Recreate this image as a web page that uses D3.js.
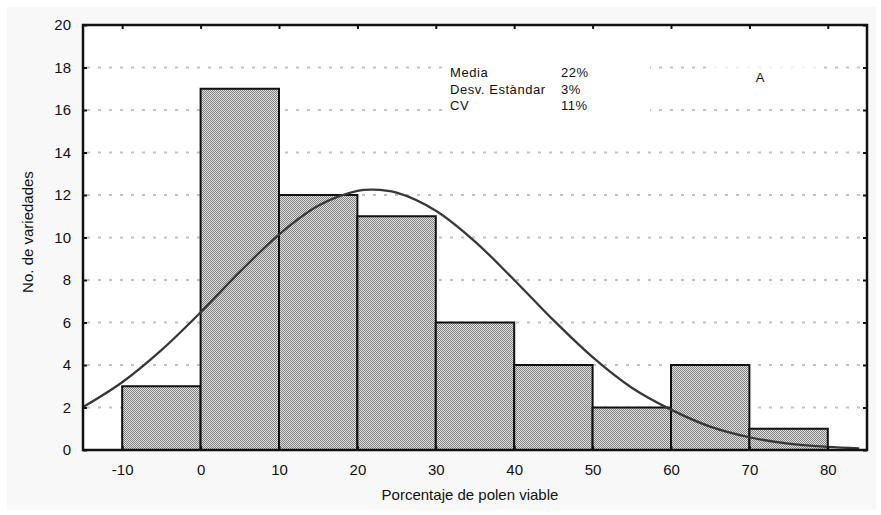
<!DOCTYPE html>
<meta charset="utf-8">
<style>
html,body{ margin:0; background:#fff; }
text{ font-family: "Liberation Sans", Arial, sans-serif; fill:#111; }
</style>
<script src="https://cdn.jsdelivr.net/npm/d3@7"></script>
<body>
<script>
var width = 881, height = 515;

// histogram bins (lower edge) and counts
var binStart = [-10, 0, 10, 20, 30, 40, 50, 60, 70];
var counts   = [3, 17, 12, 11, 6, 4, 2, 4, 1];
var binWidth = 10;

// fitted normal curve
var curveX = [-15, -10, -5, 0, 5, 10, 15, 20, 22, 25, 30, 35, 40, 45, 50, 55, 60, 65, 70, 75, 80, 84];
var curveY = [2.02, 3.19, 4.7, 6.48, 8.38, 10.14, 11.49, 12.19, 12.25, 12.11, 11.26, 9.81, 8.0, 6.11, 4.37, 2.93, 1.9, 1.1, 0.6, 0.3, 0.15, 0.08];

var xTicks = [-10, 0, 10, 20, 30, 40, 50, 60, 70, 80];
var yTicks = [0, 2, 4, 6, 8, 10, 12, 14, 16, 18, 20];

var statNames = ["Media", "Desv. Estàndar", "CV"];
var statValues = ["22%", "3%", "11%"];

var margin = {left: 83, top: 25, right: 14, bottom: 65};
var x0 = margin.left, x1 = width - margin.right,
    y0 = height - margin.bottom, y1 = margin.top;

var svg = d3.select("body").append("svg")
    .attr("width", width)
    .attr("height", height);

// light panel behind everything
svg.append("rect")
    .attr("x", 7).attr("y", 7)
    .attr("width", width - 12).attr("height", height - 12)
    .attr("fill", "#f8f8f8");

var defs = svg.append("defs");
var pat = defs.append("pattern")
    .attr("id", "hatch")
    .attr("patternUnits", "userSpaceOnUse")
    .attr("width", 2).attr("height", 2);
pat.append("rect").attr("width", 2).attr("height", 2).attr("fill", "#e2e2e2");
pat.append("rect").attr("width", 1).attr("height", 1).attr("fill", "#808080");
pat.append("rect").attr("x", 1).attr("y", 1).attr("width", 1).attr("height", 1).attr("fill", "#808080");

var x = d3.scaleLinear().domain([-15, 85]).range([x0, x1]);
var y = d3.scaleLinear().domain([0, 20]).range([y0, y1]);

// plot area
svg.append("rect")
    .attr("x", x0).attr("y", y1)
    .attr("width", x1 - x0).attr("height", y0 - y1)
    .attr("fill", "#fff");

// dotted grid
svg.append("g")
  .selectAll("line")
  .data(yTicks.filter(function(d){ return d > 0 && d < 20; }))
  .enter().append("line")
    .attr("x1", x0 + 4).attr("x2", x1 - 3)
    .attr("y1", function(d){ return y(d); })
    .attr("y2", function(d){ return y(d); })
    .attr("stroke", "#c2c2c2")
    .attr("stroke-width", 2)
    .attr("stroke-dasharray", "3,8");

// boxes that hide the grid behind the notes
svg.append("rect")
    .attr("x", 443).attr("y", 60).attr("width", 207).attr("height", 58)
    .attr("fill", "#fff");
svg.append("rect")
    .attr("x", 707).attr("y", 62).attr("width", 110).attr("height", 36)
    .attr("fill", "#fff").attr("fill-opacity", 0.75);

// bars
svg.append("g")
  .selectAll("rect")
  .data(counts)
  .enter().append("rect")
    .attr("x", function(d, i){ return x(binStart[i]); })
    .attr("y", function(d){ return y(d); })
    .attr("width", function(d, i){ return x(binStart[i] + binWidth) - x(binStart[i]); })
    .attr("height", function(d){ return y0 - y(d); })
    .attr("fill", "url(#hatch)")
    .attr("stroke", "#111")
    .attr("stroke-width", 2);

// normal curve
var line = d3.line()
    .x(function(d, i){ return x(curveX[i]); })
    .y(function(d){ return y(d); })
    .curve(d3.curveCatmullRom);
svg.append("path")
    .attr("d", line(curveY))
    .attr("fill", "none")
    .attr("stroke", "#383838")
    .attr("stroke-width", 2.3);

// frame
svg.append("rect")
    .attr("x", x0).attr("y", y1)
    .attr("width", x1 - x0).attr("height", y0 - y1)
    .attr("fill", "none")
    .attr("stroke", "#111")
    .attr("stroke-width", 2.5);

// axes: labels outside, small ticks inside
var fmt = function(d){ return String(d); };
var xAxis = svg.append("g")
    .attr("transform", "translate(0," + y0 + ")")
    .call(d3.axisBottom(x).tickValues(xTicks).tickFormat(fmt).tickSizeInner(-4).tickSizeOuter(0).tickPadding(14));
var yAxis = svg.append("g")
    .attr("transform", "translate(" + x0 + ",0)")
    .call(d3.axisLeft(y).tickValues(yTicks).tickFormat(fmt).tickSizeInner(-4).tickSizeOuter(0).tickPadding(12));
svg.append("g")
    .attr("transform", "translate(0," + y1 + ")")
    .call(d3.axisTop(x).tickValues(xTicks).tickSize(-4).tickSizeOuter(0).tickFormat(""));
svg.append("g")
    .attr("transform", "translate(" + x1 + ",0)")
    .call(d3.axisRight(y).tickValues(yTicks).tickSize(-4).tickSizeOuter(0).tickFormat(""));

svg.selectAll(".domain").remove();
svg.selectAll(".tick line").attr("stroke", "#111").attr("stroke-width", 2);
xAxis.selectAll("text").style("font-size", "15px").attr("fill", "#111");
yAxis.selectAll("text").style("font-size", "15px").attr("fill", "#111");

// axis titles
svg.append("text")
    .attr("x", (x0 + x1) / 2 - 5).attr("y", 500)
    .attr("text-anchor", "middle")
    .style("font-size", "15px")
    .text("Porcentaje de polen viable");
svg.append("text")
    .attr("transform", "translate(33,232) rotate(-90)")
    .attr("text-anchor", "middle")
    .style("font-size", "15px")
    .text("No. de variedades");

// stats note
svg.append("g").selectAll("text")
  .data(statNames)
  .enter().append("text")
    .attr("x", 450)
    .attr("y", function(d, i){ return 77 + i * 16.5; })
    .style("font-size", "13px")
    .style("letter-spacing", "0.55px")
    .text(function(d){ return d; });
svg.append("g").selectAll("text")
  .data(statValues)
  .enter().append("text")
    .attr("x", 561)
    .attr("y", function(d, i){ return 77 + i * 16.5; })
    .style("font-size", "13px")
    .style("letter-spacing", "0.55px")
    .text(function(d){ return d; });

svg.append("text")
    .attr("x", 760).attr("y", 82)
    .attr("text-anchor", "middle")
    .style("font-size", "13px")
    .text("A");
</script>
</body>
</html>
